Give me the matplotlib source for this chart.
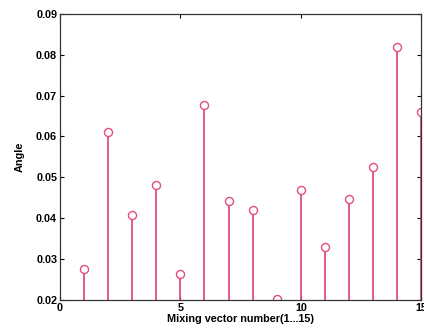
import matplotlib
matplotlib.use('Agg')
import matplotlib.pyplot as plt

# mixing vector index and angle values
vectors = [1, 2, 3, 4, 5, 6, 7, 8, 9, 10, 11, 12, 13, 14, 15]
angles = [0.0276, 0.0611, 0.0407, 0.0482, 0.0264, 0.0678, 0.0443, 0.0419,
          0.0203, 0.0468, 0.0329, 0.0447, 0.0526, 0.0818, 0.0661]
xticks = [0, 5, 10, 15]
yticks = [0.02, 0.03, 0.04, 0.05, 0.06, 0.07, 0.08, 0.09]

plt.rcParams['font.family'] = ['Liberation Sans', 'DejaVu Sans']
plt.rcParams['font.size'] = 7.8
plt.rcParams['font.weight'] = 'bold'
plt.rcParams['axes.labelweight'] = 'bold'

fig = plt.figure(figsize=(4.24, 3.31), dpi=100)
ax = fig.add_axes([0.1415, 0.094, 0.852, 0.864])

col = '#e0507a'
markers, stems, base = ax.stem(vectors, angles, bottom=0.02, basefmt=' ')
plt.setp(stems, color=col, linewidth=1.3)
plt.setp(markers, marker='o', markersize=5.8, markerfacecolor='white',
         markeredgecolor=col, markeredgewidth=1.0)

ax.set_xlim(0, 15)
ax.set_ylim(0.02, 0.09)
ax.set_xticks(xticks)
ax.set_yticks(yticks)
ax.set_yticklabels(['%.2f' % v for v in yticks])
ax.tick_params(direction='in', top=True, right=True, length=3, width=0.8, pad=2)
for s in ax.spines.values():
    s.set_linewidth(0.9)
    s.set_color('#333333')

ax.set_xlabel('Mixing vector number(1...15)', labelpad=1)
ax.set_ylabel('Angle', labelpad=8)

fig.savefig('out.png', dpi=100)
